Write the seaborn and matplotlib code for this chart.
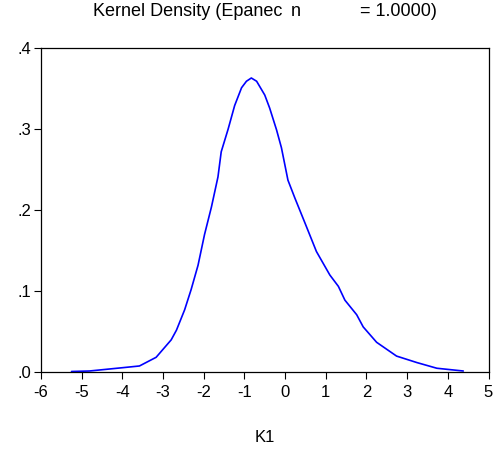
import matplotlib
matplotlib.use("Agg")
import matplotlib.pyplot as plt
import seaborn as sns
import pandas as pd

sns.set_theme(style="white")
plt.rcParams['font.family'] = ['Liberation Sans', 'DejaVu Sans']

# Kernel density curve
k1 = [-5.25, -4.81, -3.99, -3.58, -3.17, -2.80, -2.67, -2.47, -2.31, -2.14,
      -1.98, -1.81, -1.65, -1.57, -1.40, -1.24, -1.07, -0.95, -0.83, -0.70,
      -0.50, -0.38, -0.21, -0.09, 0.07, 0.24, 0.49, 0.77, 1.10, 1.31,
      1.47, 1.76, 1.92, 2.25, 2.74, 3.24, 3.73, 4.38]
density = [0.001, 0.0016, 0.0057, 0.0078, 0.0185, 0.040, 0.052, 0.077, 0.102, 0.132,
           0.170, 0.204, 0.241, 0.272, 0.300, 0.329, 0.351, 0.359, 0.363, 0.359,
           0.342, 0.326, 0.299, 0.277, 0.237, 0.215, 0.184, 0.149, 0.120, 0.106,
           0.089, 0.071, 0.056, 0.037, 0.020, 0.012, 0.005, 0.0016]
x_ticks = [-6, -5, -4, -3, -2, -1, 0, 1, 2, 3, 4, 5]
y_ticks = [0.0, 0.1, 0.2, 0.3, 0.4]
y_tick_labels = [".0", ".1", ".2", ".3", ".4"]

df = pd.DataFrame({"K1": k1, "Density": density})

W, H = 498, 454
fig = plt.figure(figsize=(W / 100, H / 100), dpi=100)
ax = fig.add_axes([41 / W, 1 - 372.3 / H, (488.5 - 41) / W, (372.3 - 48) / H])

sns.lineplot(data=df, x="K1", y="Density", ax=ax, color="#0000ff",
             linewidth=1.2, sort=False)

ax.set_xlim(-6, 5)
ax.set_ylim(0, 0.4)
ax.set_xticks(x_ticks)
ax.set_xticklabels([str(t) for t in x_ticks])
ax.set_yticks(y_ticks)
ax.set_yticklabels(y_tick_labels)
ax.tick_params(axis='both', which='both', direction='out', length=5, width=0.8,
               color='black', labelsize=12, labelcolor='black')
ax.tick_params(axis='x', pad=4, bottom=True, top=False)
ax.tick_params(axis='y', pad=2, left=True, right=False)
for s in ax.spines.values():
    s.set_color('black')
    s.set_linewidth(0.9)

ax.set_xlabel("K1", fontsize=12, color='black', labelpad=22)
ax.set_ylabel("")

ty = 1 - 11 / H
fig.text(93 / W, ty, "Kernel Density (Epanec", fontsize=13, ha='left', va='center', color='black')
fig.text(291 / W, ty, "n", fontsize=13, ha='left', va='center', color='black')
fig.text(360 / W, ty, "= 1.0000)", fontsize=13, ha='left', va='center', color='black')

fig.savefig("out.png", dpi=100)
